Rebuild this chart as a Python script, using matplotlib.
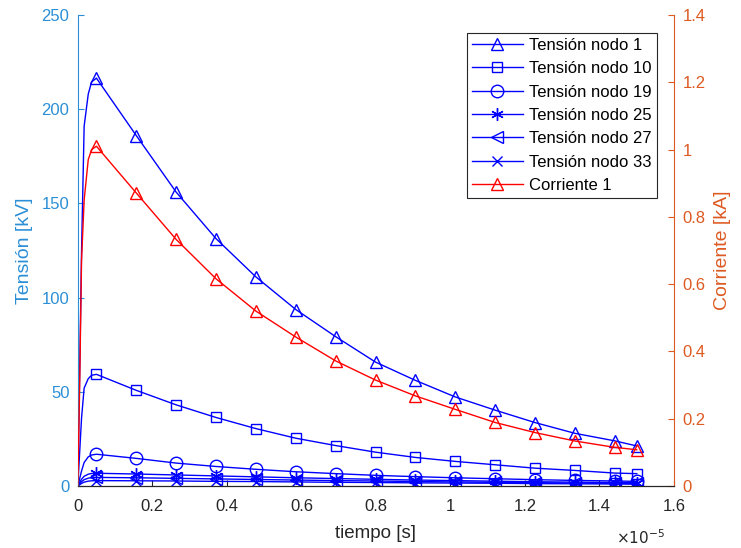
import matplotlib.pyplot as plt
from matplotlib.ticker import FixedLocator

plt.rcParams['font.family'] = ['Liberation Sans', 'DejaVu Sans']

# tiempo en unidades de 1e-5 s
t = [0, 0.005, 0.01, 0.017, 0.028, 0.037,
     0.05, 0.157, 0.264, 0.371, 0.478, 0.585, 0.692, 0.799,
     0.906, 1.013, 1.12, 1.227, 1.334, 1.441, 1.5]

# tensiones [kV]
v_nodo1 = [0, 60, 124, 191, 208, 214.5,
           216.5, 186, 156, 131.3, 111, 93.7, 79.3, 65.8,
           56.1, 47.3, 40.3, 33.7, 28.0, 24.0, 21.3]
v_nodo10 = [0, 18, 36, 52, 57, 58.8,
            59.3, 50.8, 43.1, 36.4, 30.5, 25.4, 21.5, 18.0,
            15.2, 13.1, 11.3, 9.5, 8.3, 6.9, 6.6]
v_nodo19 = [0, 4, 8, 12.5, 15.5, 16.5,
            16.9, 14.7, 12.2, 10.4, 8.9, 7.6, 6.6, 5.7,
            5.0, 4.4, 3.9, 3.4, 3.0, 2.7, 2.5]
v_nodo25 = [0, 2, 3.6, 5.2, 6.3, 6.7,
            6.8, 6.4, 5.9, 5.4, 4.9, 4.4, 4.0, 3.6,
            3.2, 2.9, 2.6, 2.3, 2.1, 1.9, 1.8]
v_nodo27 = [0, 1.2, 2.3, 3.4, 4.2, 4.5,
            4.6, 4.4, 4.1, 3.8, 3.5, 3.2, 2.9, 2.7,
            2.4, 2.2, 2.0, 1.8, 1.6, 1.5, 1.4]
v_nodo33 = [0, 0.7, 1.4, 2.1, 2.6, 2.8,
            2.9, 2.8, 2.7, 2.5, 2.4, 2.2, 2.0, 1.9,
            1.7, 1.6, 1.5, 1.3, 1.2, 1.1, 1.0]

# corriente [kA]
i_corr1 = [0, 0.30, 0.67, 0.85, 0.97, 1.0,
           1.01, 0.871, 0.733, 0.616, 0.520, 0.443, 0.372, 0.315,
           0.268, 0.228, 0.189, 0.159, 0.134, 0.115, 0.108]

marks = list(range(6, len(t)))

c_left = '#2b8fd6'
c_right = '#dd5a22'

fig = plt.figure(figsize=(7.41, 5.48), dpi=100)
ax = fig.add_axes([0.105, 0.113, 0.8046, 0.8596])
ax2 = ax.twinx()

kw = dict(color='blue', lw=1, ms=9, mew=1, fillstyle='none', markevery=marks)
h = []
h += ax.plot(t, v_nodo1, marker='^', label='Tensión nodo 1', **kw)
h += ax.plot(t, v_nodo10, marker='s', label='Tensión nodo 10', **{**kw, 'ms': 7.5})
h += ax.plot(t, v_nodo19, marker='o', label='Tensión nodo 19', **kw)
h += ax.plot(t, v_nodo25, marker=(6, 2, 0), label='Tensión nodo 25', **kw)
h += ax.plot(t, v_nodo27, marker='<', label='Tensión nodo 27', **kw)
h += ax.plot(t, v_nodo33, marker='x', label='Tensión nodo 33', **{**kw, 'ms': 7})
h += ax2.plot(t, i_corr1, marker='^', label='Corriente 1', **{**kw, 'color': 'red'})

ax.set_xlim(0, 1.6)
ax.set_ylim(0, 250)
ax2.set_ylim(0, 1.4)

ax.xaxis.set_major_locator(FixedLocator([0, 0.2, 0.4, 0.6, 0.8, 1, 1.2, 1.4, 1.6]))
ax.set_xticklabels(['0', '0.2', '0.4', '0.6', '0.8', '1', '1.2', '1.4', '1.6'])
ax.set_yticks([0, 50, 100, 150, 200, 250])
ax2.set_yticks([0, 0.2, 0.4, 0.6, 0.8, 1, 1.2, 1.4])
ax2.set_yticklabels(['0', '0.2', '0.4', '0.6', '0.8', '1', '1.2', '1.4'])

for a in (ax, ax2):
    a.tick_params(direction='in', length=4, labelsize=12, pad=6)
    a.spines['top'].set_visible(False)
ax.tick_params(axis='x', colors='#262626', pad=9)
ax.tick_params(axis='y', colors=c_left)
ax2.tick_params(axis='y', colors=c_right)
ax.spines['left'].set_color(c_left)
ax.spines['right'].set_visible(False)
ax2.spines['left'].set_visible(False)
ax2.spines['right'].set_color(c_right)
ax2.spines['bottom'].set_color('#262626')

ax.set_xlabel('tiempo [s]', fontsize=13.5, color='#262626', labelpad=8)
ax.set_ylabel('Tensión [kV]', fontsize=14, color=c_left, labelpad=6)
ax2.set_ylabel('Corriente [kA]', fontsize=14, color=c_right, labelpad=6)
ax.text(0.985, -0.09, r'$\times10^{-5}$', transform=ax.transAxes, ha='right',
        va='top', fontsize=11, color='#262626')

leg = ax2.legend(handles=h, loc='upper right', bbox_to_anchor=(0.971, 0.962),
                 fontsize=12, handlelength=3.1, handletextpad=0.35,
                 fancybox=False, framealpha=1, edgecolor='#262626',
                 borderaxespad=0, labelspacing=0.5, borderpad=0.3)
leg.get_frame().set_linewidth(0.8)

fig.savefig('out.png', dpi=100)
